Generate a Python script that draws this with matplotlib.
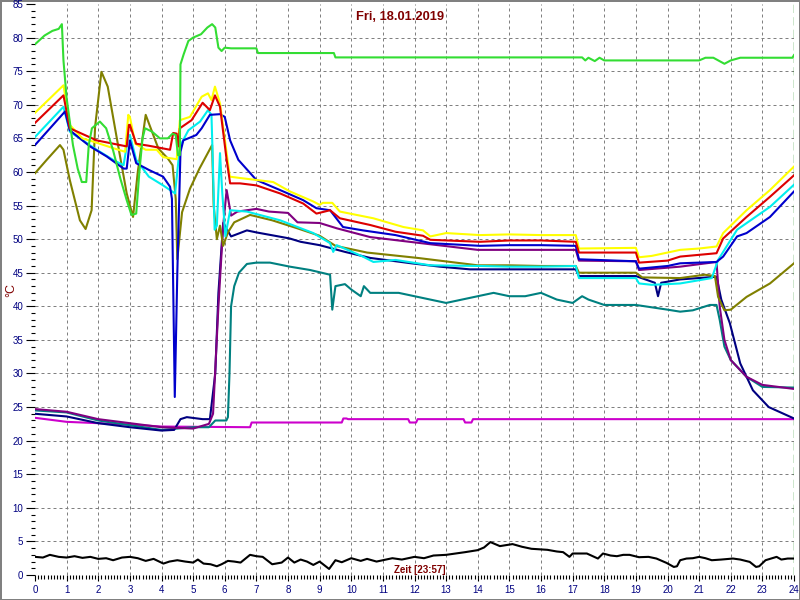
import matplotlib
matplotlib.use("Agg")
import matplotlib.pyplot as plt
from matplotlib.ticker import MultipleLocator

# Stunden / Temperaturen
h_gruen = [0, 0.3, 0.55, 0.75, 0.85, 0.9, 1.0, 1.2, 1.35, 1.48, 1.62, 1.7, 1.8, 2.05, 2.25, 2.47, 2.7, 2.9, 3.05, 3.2,
           3.3, 3.4, 3.48, 3.7, 3.95, 4.2, 4.35, 4.45, 4.52, 4.58, 4.6, 4.7, 4.85, 5.0, 5.25, 5.45, 5.6, 5.7, 5.8, 5.9,
           6.0, 6.2, 7.0, 7.05, 9.45, 9.5, 17.3, 17.4, 17.5, 17.7, 17.85, 18.0, 21.0, 21.2, 21.45, 21.8, 22.0, 22.3,
           23.95, 24.0]
t_gruen = [79, 80.3, 81, 81.3, 82, 76.6, 71, 64, 60.5, 58.5, 58.5, 64, 66.5, 67.5, 66.5, 63.2, 59, 55.8, 53.6, 53.8,
           60, 65, 66.5, 66, 65, 65, 65.7, 65.5, 62.5, 62.5, 76, 77.5, 79.5, 80, 80.5, 81.5, 82, 81.5, 78.5, 78,
           78.5, 78.4, 78.4, 77.7, 77.7, 77.05, 77.05, 76.6, 77, 76.5, 77, 76.6, 76.6, 77, 77, 76.1, 76.6, 77,
           77, 77.4]

h_gelb = [0, 0.9, 1.1, 1.5, 1.85, 2.5, 2.85, 2.95, 3.0, 3.17, 3.5, 3.85, 4.05, 4.48, 4.58, 4.9, 5.27, 5.47, 5.58,
          5.69, 5.85, 6.06, 6.16, 6.48, 7.53, 8.06, 8.8, 9.0, 9.1, 9.4, 9.64, 10.7, 11.65, 12.27, 12.5, 13.0, 14.07,
          15, 16, 17.1, 17.2, 19.0, 19.1, 19.5, 20.0, 20.4, 21.0, 21.55, 21.76, 22.5, 23.24, 24.0]
t_gelb = [68.8, 72.9, 67, 65, 64.5, 63.5, 63, 68.5, 68.2, 64.2, 63.3, 63.3, 62.2, 61.9, 67.7, 68.2, 71.2, 71.7, 70.7,
          72.7, 70.2, 62.8, 59.3, 59.1, 58.5, 57.1, 55.6, 55.1, 55.4, 55.4, 54.1, 53.1, 51.8, 51.3, 50.4, 50.9, 50.6,
          50.7, 50.6, 50.6, 48.6, 48.7, 47.3, 47.5, 48, 48.4, 48.6, 48.9, 50.9, 54.3, 57.3, 60.8]

h_rot = [0, 0.9, 1.1, 1.95, 2.9, 2.97, 3.0, 3.2, 3.6, 4.05, 4.27, 4.37, 4.48, 4.53, 4.58, 4.95, 5.3, 5.53, 5.69, 5.85,
         6.06, 6.17, 6.48, 7.0, 7.75, 8.48, 8.9, 9.33, 9.64, 10.6, 11.4, 12.27, 12.5, 14.07, 15, 16, 17.1, 17.2,
         19.0, 19.1, 20.0, 20.4, 21.55, 21.76, 22.5, 23.24, 24.0]
t_rot = [67.3, 71.4, 66.5, 64.7, 63.8, 67, 67, 64.2, 63.9, 63.5, 63.3, 65.8, 65.7, 63.8, 66.5, 67.7, 70.3, 69.2, 71.4,
         69.7, 61.8, 58.3, 58.3, 58, 56.8, 55.3, 53.8, 54.3, 53.1, 52.1, 51.1, 50.5, 49.9, 49.6, 49.8, 49.8, 49.6,
         48, 48, 46.5, 46.8, 47.4, 47.9, 50.1, 53.3, 56.3, 59.5]

h_cyan = [0, 0.9, 1.1, 1.95, 2.47, 2.8, 2.95, 3.0, 3.2, 3.6, 4.05, 4.43, 4.58, 4.85, 5.22, 5.47, 5.58, 5.62, 5.68,
          5.75, 5.85, 5.92, 6.02, 6.1, 6.17, 6.7, 7.75, 8.8, 9.33, 9.43, 9.54, 10.37, 10.7, 11.4, 12.5, 14.07, 15,
          16, 17.1, 17.2, 19.0, 19.1, 19.5, 20.0, 20.4, 21.4, 21.6, 22.2, 23.24, 24.0]
t_cyan = [65.2, 69.7, 66, 63.3, 61.8, 61, 65.2, 65.5, 61.8, 59.3, 58, 56.8, 63.8, 66.2, 67.5, 69.2, 68.5, 62, 51.4,
          52, 62.8, 57, 50.4, 52.5, 54.3, 54.1, 52.8, 50.9, 49.4, 48.1, 49.1, 47.4, 46.6, 46.9, 46.1, 46.0, 45.9,
          45.9, 46, 44.2, 44.2, 43.4, 43.2, 43.3, 43.4, 44.2, 46.9, 51.4, 54.8, 58.1]

h_blau = [0, 0.95, 1.1, 1.74, 2.27, 2.8, 2.9, 3.0, 3.2, 3.6, 4.05, 4.27, 4.33, 4.42, 4.5, 4.6, 4.69, 5.1, 5.27,
          5.53, 5.85, 6.0, 6.17, 6.43, 7.0, 7.75, 8.48, 8.9, 9.33, 9.74, 10.37, 11.4, 12.5, 14.07, 15, 16, 17.1,
          17.2, 19.0, 19.1, 20.0, 20.4, 21.55, 21.76, 22.2, 22.5, 23.24, 24.0]
t_blau = [64, 69, 66.2, 63.8, 62.3, 60.5, 60.5, 64.7, 61.3, 60.3, 59.3, 57.8, 56, 26.5, 45, 63, 64.7, 65.5, 66.5,
          68.5, 68.6, 68.2, 64.7, 61.8, 58.8, 57.3, 55.8, 54.6, 54.3, 51.8, 51.3, 50.6, 49.4, 49.0, 49.1, 49.1, 49,
          47, 46.7, 45.6, 46, 46.4, 46.6, 47.4, 50.4, 50.9, 53.3, 57.1]

h_oliv = [0, 0.37, 0.79, 0.9, 1.1, 1.42, 1.6, 1.79, 1.9, 2.1, 2.3, 2.58, 2.9, 3.1, 3.25, 3.5, 3.9, 4.2, 4.35, 4.45,
          4.5, 4.65, 4.9, 5.2, 5.6, 5.65, 5.75, 5.85, 5.95, 6.1, 6.3, 6.8, 7.5, 8.3, 9.0, 9.5, 10.5, 12.1, 14.0, 15,
          16, 17.1, 17.2, 19.0, 19.2, 20.4, 21.18, 21.5, 21.6, 21.8, 22.0, 22.5, 23.24, 24.0]
t_oliv = [59.8, 61.8, 64, 63.3, 58.8, 52.8, 51.5, 54.3, 66.7, 74.9, 72.7, 65.2, 56.8, 53.3, 60, 68.5, 63.5, 62, 61,
          56, 47, 54, 57.5, 60.5, 64, 55, 50, 52, 49, 51, 52.5, 53.6, 52.8, 51.6, 50.5, 49, 48, 47.2, 46.1, 46.1,
          46, 46, 45, 45, 44.3, 44.2, 44.7, 44.5, 41.4, 39.4, 39.5, 41.4, 43.4, 46.4]

h_lila = [0, 1.0, 2.0, 3.0, 4.0, 5.0, 5.5, 5.63, 5.8, 5.95, 6.06, 6.2, 6.4, 7.0, 7.4, 8.0, 8.3, 9.0, 9.55, 10.6,
          12.2, 14.0, 17.1, 17.2, 19.0, 19.1, 20.4, 21.55, 21.65, 21.8, 22.0, 22.5, 23.0, 24.0]
t_lila = [24.7, 24.3, 23.2, 22.6, 22.0, 21.8, 22.5, 24, 40, 52, 57.3, 53.5, 54.1, 54.5, 54.1, 53.9, 52.5, 52.4,
          51.6, 50.3, 49.4, 48.4, 48.4, 46.8, 46.7, 45.4, 45.9, 46.6, 40, 35, 32, 29.5, 28.3, 27.7]

h_navy = [0, 1.0, 2.0, 3.0, 4.0, 4.4, 4.6, 4.8, 5.3, 5.53, 5.7, 5.8, 5.95, 6.2, 6.48, 6.7, 7.0, 8.05, 8.4, 9.0,
          9.8, 10.6, 11.9, 12.8, 13.75, 17.1, 17.2, 19.0, 19.6, 19.7, 19.8, 20.4, 21.55, 21.7, 21.97, 22.3, 22.7,
          23.2, 24.0]
t_navy = [24.0, 23.6, 22.6, 22.0, 21.5, 21.6, 23.2, 23.5, 23.2, 23.2, 30, 42, 52.4, 50.4, 50.9, 51.3, 51.0, 50.1,
          49.6, 49.1, 48.1, 47.2, 46.4, 45.9, 45.5, 45.5, 44.5, 44.5, 43.5, 41.5, 43.5, 44, 44.4, 41, 37.5, 31.5,
          27.5, 25, 23.3]

h_teal = [0, 1.0, 2.0, 3.0, 4.0, 4.5, 5.0, 5.5, 5.7, 6.05, 6.1, 6.15, 6.2, 6.3, 6.45, 6.7, 7.0, 7.43, 8.06, 8.7,
          9.33, 9.4, 9.5, 9.8, 10.0, 10.3, 10.4, 10.6, 11.5, 12.0, 12.5, 13.0, 13.5, 14.0, 14.5, 15.0, 15.5, 16.0,
          16.5, 17.0, 17.3, 17.5, 18.0, 19.0, 20.0, 20.4, 20.8, 21.34, 21.55, 21.65, 21.8, 22.0, 22.5, 23.0, 24.0]
t_teal = [24.5, 24.2, 23.0, 22.3, 21.6, 21.8, 22.0, 22.0, 23.0, 23.0, 23.5, 30, 40, 43, 45, 46.3, 46.5, 46.5, 45.9,
          45.4, 44.7, 39.5, 43, 43.3, 42.5, 41.5, 43, 42, 42, 41.5, 41, 40.5, 41, 41.5, 42, 41.5, 41.5, 42,
          41, 40.5, 41.5, 41, 40.2, 40.2, 39.5, 39.2, 39.4, 40.2, 40.2, 38, 34, 32, 29.5, 28, 27.9]

h_magenta = [0, 1.0, 2.0, 3.0, 4.0, 6.8, 6.85, 9.7, 9.75, 9.85, 9.9, 11.8, 11.85, 12.05, 12.1, 13.55, 13.6, 13.8,
             13.85, 24.0]
t_magenta = [23.4, 22.8, 22.6, 22.4, 22.1, 22.0, 22.7, 22.7, 23.3, 23.3, 23.2, 23.2, 22.7, 22.7, 23.2, 23.2, 22.7,
             22.7, 23.2, 23.2]

h_schwarz = [0, 0.25, 0.47, 0.75, 1.0, 1.25, 1.5, 1.75, 2.0, 2.25, 2.47, 2.75, 3.0, 3.25, 3.5, 3.75, 4.06, 4.25,
             4.5, 4.75, 5.0, 5.15, 5.33, 5.55, 5.75, 5.9, 6.1, 6.3, 6.5, 6.8, 7.0, 7.2, 7.5, 7.8, 8.0, 8.2, 8.4, 8.6,
             8.8, 9.0, 9.3, 9.5, 9.7, 10, 10.3, 10.5, 10.8, 11, 11.3, 11.6, 12, 12.3, 12.6, 13, 13.3, 13.6, 14, 14.2,
             14.4, 14.7, 15.1, 15.4, 15.7, 16.2, 16.5, 16.7, 16.9, 17.0, 17.45, 17.8, 17.96, 18.2, 18.4, 18.6, 18.8,
             19.1, 19.4, 19.65, 19.97, 20.2, 20.3, 20.4, 20.6, 20.8, 21.0, 21.2, 21.4, 21.7, 22.07, 22.3, 22.6,
             22.8, 22.9, 23.1, 23.45, 23.6, 23.8, 24]
t_schwarz = [2.7, 2.6, 3.0, 2.7, 2.6, 2.8, 2.55, 2.7, 2.4, 2.5, 2.2, 2.6, 2.7, 2.5, 2.1, 2.4, 1.7, 2.0,
             2.2, 2.0, 1.85, 2.3, 1.7, 1.6, 1.3, 1.6, 2.1, 2.0, 1.85, 3.0, 2.8, 2.7, 1.6, 1.85, 2.6, 1.85, 2.3, 2.0,
             1.5, 2.0, 0.9, 2.2, 1.9, 2.5, 2.1, 2.4, 2.0, 2.2, 2.5, 2.3, 2.7, 2.5, 2.9, 3.0, 3.2, 3.4, 3.7, 4.1,
             4.9, 4.3, 4.6, 4.2, 3.9, 3.75, 3.5, 3.4, 2.7, 3.2, 3.2, 2.45, 3.2, 2.9, 2.8, 3.0, 3.0,
             2.65, 2.7, 2.45, 1.8, 1.2, 1.3, 2.2, 2.45, 2.5, 2.7, 2.5, 2.2, 2.3, 2.45, 2.3, 1.95,
             1.2, 1.3, 2.2, 2.7, 2.3, 2.45, 2.45]

x_ticks = list(range(0, 25))
y_ticks = list(range(0, 90, 5))

fig = plt.figure(figsize=(8, 6), dpi=100, facecolor="white", edgecolor="#808080", linewidth=2)
ax = fig.add_axes([35 / 800, 25 / 600, 759 / 800, 571 / 600])
ax.set_facecolor("white")

for v in y_ticks[1:-1]:
    ax.axhline(v, color="#808080", lw=0.72, ls=(0, (3, 3)), zorder=1)
for v in x_ticks[1:-1]:
    ax.axvline(v, color="#808080", lw=0.72, ls=(0, (3, 3)), zorder=1)
ax.axvline(24, color="#008000", lw=1, ls=(0, (6, 3)), zorder=1)

lw = 1.5
ax.plot(h_magenta, t_magenta, color="#cc00cc", lw=lw, zorder=3)
ax.plot(h_teal, t_teal, color="#008080", lw=lw, zorder=3)
ax.plot(h_navy, t_navy, color="#000080", lw=lw, zorder=3)
ax.plot(h_lila, t_lila, color="#800080", lw=lw, zorder=3)
ax.plot(h_oliv, t_oliv, color="#808000", lw=lw, zorder=3)
ax.plot(h_cyan, t_cyan, color="#00eeee", lw=lw, zorder=3)
ax.plot(h_blau, t_blau, color="#0000cc", lw=lw, zorder=3)
ax.plot(h_gelb, t_gelb, color="#ffff00", lw=lw, zorder=3)
ax.plot(h_rot, t_rot, color="#dd0000", lw=lw, zorder=3)
ax.plot(h_gruen, t_gruen, color="#33dd33", lw=lw, zorder=3)
ax.plot(h_schwarz, t_schwarz, color="black", lw=lw, zorder=3)

ax.set_xlim(0, 24)
ax.set_ylim(0, 85)
for s in ax.spines.values():
    s.set_visible(False)

ax.set_xticks(x_ticks)
ax.set_yticks(y_ticks)
ax.xaxis.set_minor_locator(MultipleLocator(0.1))
ax.yaxis.set_minor_locator(MultipleLocator(1))
ax.tick_params(axis="y", which="major", length=6.5, width=0.8, pad=2, labelsize=7, labelcolor="#000080")
ax.tick_params(axis="y", which="minor", length=3.2, width=0.8)
ax.tick_params(axis="x", which="major", length=4.5, width=0.8, pad=3, labelsize=7, labelcolor="#000080")
ax.tick_params(axis="x", which="minor", length=3, width=0.8)
for lab in ax.get_xticklabels() + ax.get_yticklabels():
    lab.set_family("Liberation Sans")

fig.text(0.5, 1 - 17.5 / 600, "Fri, 18.01.2019", ha="center", va="center", color="#800000",
         fontsize=9.3, fontweight="bold", family="Liberation Sans")
fig.text(420 / 800, 1 - 570 / 600, "Zeit [23:57]", ha="center", va="center", color="#800000",
         fontsize=7, fontweight="bold", family="Liberation Sans")
fig.text(11 / 800, 1 - 290 / 600, "°C", ha="center", va="center", color="#800000",
         fontsize=9, rotation=90, family="Liberation Sans")

fig.savefig("out.png", dpi=100)
